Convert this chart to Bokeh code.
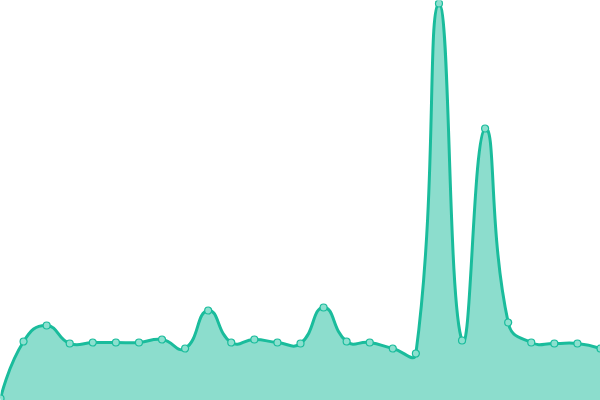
import numpy as np
from bokeh.plotting import figure
from bokeh.models import Range1d, ColumnDataSource
from bokeh.embed import file_html
from bokeh.resources import INLINE

# data
categories = list(range(27))
values = [2, 59, 75, 57, 58, 58, 58, 61, 52, 90, 58, 61, 58, 57, 93,
          59, 58, 52, 47, 397, 60, 272, 78, 58, 57, 57, 52]

LINE = "#1abc9c"
W, H = 600, 400
Y_MAX = 400

p = figure(width=W, height=H, output_backend="svg", toolbar_location=None,
           x_range=Range1d(0, len(categories) - 1), y_range=Range1d(0, Y_MAX),
           min_border=0, outline_line_color=None, background_fill_color="white",
           border_fill_color="white")
p.axis.visible = False
p.grid.visible = False

# ECharts-like bezier smoothing (smooth = 0.5) computed in screen space
xs = np.array(categories, dtype=float)
ys = np.array(values, dtype=float)
sx = W / (len(categories) - 1)
sy = H / Y_MAX
px, py = xs * sx, ys * sy
n = len(px)
smooth = 0.5
cp0 = np.zeros((n, 2)); cp1 = np.zeros((n, 2))
for i in range(n):
    pt = np.array([px[i], py[i]])
    if i == 0 or i == n - 1:
        cp0[i] = pt; cp1[i] = pt
        continue
    prev = np.array([px[i - 1], py[i - 1]]); nxt = np.array([px[i + 1], py[i + 1]])
    v = (nxt - prev) * smooth
    d0 = np.linalg.norm(pt - prev); d1 = np.linalg.norm(pt - nxt)
    s = d0 + d1
    d0, d1 = d0 / s, d1 / s
    cp0[i] = pt - v * d0
    cp1[i] = pt + v * d1
lo = np.array([px.min(), py.min()]); hi = np.array([px.max(), py.max()])
cp0 = np.clip(cp0, lo, hi); cp1 = np.clip(cp1, lo, hi)

seg = dict(
    x0=xs[:-1], y0=ys[:-1], x1=xs[1:], y1=ys[1:],
    cx0=cp1[:-1, 0] / sx, cy0=cp1[:-1, 1] / sy,
    cx1=cp0[1:, 0] / sx, cy1=cp0[1:, 1] / sy,
)

# fill under the bezier curve
t = np.linspace(0, 1, 40)[:, None]
fx, fy = [], []
for k in range(n - 1):
    a = (1 - t) ** 3; b = 3 * (1 - t) ** 2 * t; c = 3 * (1 - t) * t ** 2; d = t ** 3
    bx = a * seg["x0"][k] + b * seg["cx0"][k] + c * seg["cx1"][k] + d * seg["x1"][k]
    by = a * seg["y0"][k] + b * seg["cy0"][k] + c * seg["cy1"][k] + d * seg["y1"][k]
    fx.extend(bx.ravel().tolist()); fy.extend(by.ravel().tolist())
fx = [xs[0]] + fx + [xs[-1]]
fy = [0] + fy + [0]
p.patch(fx, fy, fill_color=LINE, fill_alpha=0.5, line_color=None)

p.bezier(source=ColumnDataSource(seg), x0="x0", y0="y0", x1="x1", y1="y1",
         cx0="cx0", cy0="cy0", cx1="cx1", cy1="cy1",
         line_color=LINE, line_width=3)

p.scatter(xs, ys, size=7, fill_color="#8ce0cf", line_color=LINE, line_width=1.2)

open("out.html", "w").write(file_html(p, INLINE))
